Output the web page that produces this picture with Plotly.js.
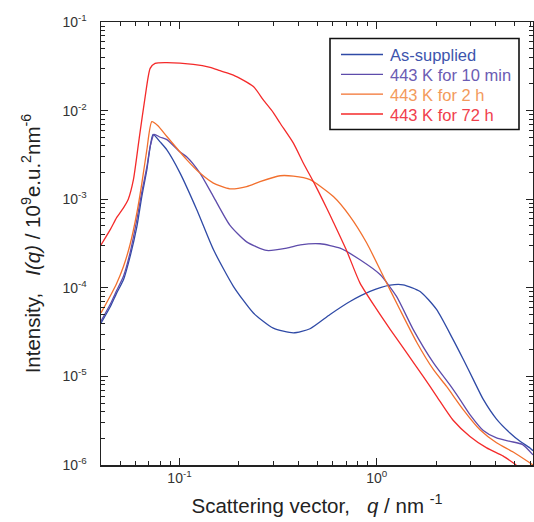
<!DOCTYPE html>
<html>
<head>
<meta charset="utf-8">
<script src="https://cdn.plot.ly/plotly-3.0.1.min.js"></script>
<style>html,body{margin:0;padding:0;background:#fff;}#chart{width:534px;height:522px;}</style>
</head>
<body>
<div id="chart"></div>
<script>
// Series names
const seriesNames = ["As-supplied", "443 K for 10 min", "443 K for 2 h", "443 K for 72 h"];

// As-supplied
const qAs = [0.04,0.0447,0.048,0.052,0.0562,0.0608,0.0644,0.0683,0.071,0.0735,0.08,0.0863,0.1007,0.1224,0.1486,0.1876,0.237,0.299,0.378,0.459,0.58,0.732,0.925,1.17,1.36,1.66,2.01,2.44,2.75,3.09,3.47,4.05,4.74,5.33,6.0,6.2];
const iAs = [4.0e-5,6.2e-5,8.7e-5,1.23e-4,2.26e-4,4.9e-4,1.07e-3,2.14e-3,3.9e-3,5.4e-3,4.4e-3,3.6e-3,1.97e-3,7.6e-4,2.7e-4,1.04e-4,5.2e-5,3.5e-5,3.1e-5,3.45e-5,5.0e-5,7.0e-5,9.1e-5,1.07e-4,1.08e-4,9.1e-5,5.7e-5,2.6e-5,1.55e-5,9.2e-6,5.5e-6,3.3e-6,2.3e-6,1.85e-6,1.55e-6,1.45e-6];

// 443 K for 10 min
const q10m = [0.04,0.0447,0.048,0.052,0.0562,0.0608,0.0644,0.0683,0.071,0.0743,0.08,0.0863,0.1007,0.109,0.127,0.1486,0.18,0.219,0.277,0.35,0.41,0.516,0.652,0.823,1.04,1.26,1.53,1.94,2.35,2.64,2.97,3.47,4.05,4.74,5.5,6.2];
const i10m = [4.2e-5,6.6e-5,9.3e-5,1.35e-4,2.5e-4,5.9e-4,1.2e-3,2.3e-3,3.9e-3,5.4e-3,5.0e-3,4.7e-3,3.4e-3,3.0e-3,1.97e-3,1.07e-3,5.1e-4,3.3e-4,2.64e-4,2.8e-4,3.05e-4,3.14e-4,2.8e-4,2.07e-4,1.41e-4,8.0e-5,3.4e-5,1.42e-5,8.0e-6,5.5e-6,3.7e-6,2.45e-6,2.02e-6,1.85e-6,1.7e-6,1.3e-6];

// 443 K for 2 h
const q2h = [0.04,0.0447,0.048,0.052,0.0562,0.0608,0.0644,0.0683,0.0724,0.0775,0.0863,0.109,0.127,0.1486,0.18,0.219,0.256,0.324,0.378,0.459,0.603,0.732,0.89,1.08,1.31,1.6,1.94,2.26,2.75,3.34,4.05,4.92,6.0,6.2];
const i2h = [5.2e-5,8.2e-5,1.12e-4,1.74e-4,3.1e-4,7.0e-4,1.5e-3,3.6e-3,7.5e-3,6.8e-3,5.1e-3,2.78e-3,1.97e-3,1.52e-3,1.31e-3,1.39e-3,1.58e-3,1.84e-3,1.82e-3,1.66e-3,1.07e-3,6.4e-4,3.2e-4,1.35e-4,5.7e-5,2.4e-5,1.19e-5,7.7e-6,4.2e-6,2.5e-6,1.78e-6,1.4e-6,1.05e-6,1.0e-6];

// 443 K for 72 h
const q72h = [0.04,0.0447,0.048,0.052,0.055,0.0584,0.0625,0.067,0.071,0.0752,0.0863,0.1175,0.143,0.1606,0.1876,0.237,0.266,0.299,0.324,0.378,0.425,0.487,0.558,0.603,0.705,0.823,1.0,1.17,1.42,1.72,2.01,2.44,2.97,3.61,4.38,5.1];
const i72h = [3.05e-4,4.6e-4,6.2e-4,8.0e-4,1.0e-3,1.66e-3,4.9e-3,1.44e-2,3.0e-2,3.42e-2,3.48e-2,3.33e-2,3.08e-2,2.82e-2,2.52e-2,1.87e-2,1.32e-2,9.5e-3,7.2e-3,4.3e-3,2.55e-3,1.45e-3,7.9e-4,5.5e-4,2.6e-4,1.13e-4,5.7e-5,3.4e-5,1.84e-5,1.0e-5,6.0e-6,3.2e-6,2.1e-6,1.56e-6,1.26e-6,1.0e-6];

// Tick labels
const xTickVals = [0.1, 1];
const xTickText = ["10<sup>-1</sup>", "10<sup>0</sup>"];
const yTickVals = [1e-1, 1e-2, 1e-3, 1e-4, 1e-5, 1e-6];
const yTickText = ["10<sup>-1</sup>", "10<sup>-2</sup>", "10<sup>-3</sup>", "10<sup>-4</sup>", "10<sup>-5</sup>", "10<sup>-6</sup>"];

const lineColors = ["#2f4aa6", "#5e4cab", "#f2702e", "#f42a2a"];
const textColors = ["#3d55ad", "#6b5cb3", "#f39a5c", "#f0404c"];

const xs = [qAs, q10m, q2h, q72h];
const ys = [iAs, i10m, i2h, i72h];

// minor tick positions
const xMinor = [];
[0.01, 0.1, 1].forEach(d => { for (let k = 2; k <= 9; k++) xMinor.push(k * d); });
const yMinor = [];
[1e-6, 1e-5, 1e-4, 1e-3, 1e-2].forEach(d => { for (let k = 2; k <= 9; k++) yMinor.push(k * d); });

const traces = seriesNames.map((n, i) => ({
  x: xs[i], y: ys[i], type: "scatter", mode: "lines", name: n,
  line: {color: lineColors[i], width: 1.3, shape: "spline", smoothing: 0.6},
  showlegend: false
}));

// Legend drawn as a boxed key (pixel geometry converted to paper fractions)
const W = 534, H = 522, M = {l: 101, r: 1, t: 22, b: 57};
const pw = W - M.l - M.r, ph = H - M.t - M.b;
const px = x => (x - M.l) / pw;
const py = y => (H - M.b - y) / ph;
const legRows = [55.5, 75.3, 95.2, 115.0];
const shapes = [{type: "rect", xref: "paper", yref: "paper", x0: px(330), x1: px(519), y0: py(38.5), y1: py(129.5),
  line: {color: "#111", width: 1.6}, fillcolor: "#fff", layer: "above"}];
const annotations = [];
seriesNames.forEach((n, i) => {
  shapes.push({type: "line", xref: "paper", yref: "paper", x0: px(341), x1: px(383), y0: py(legRows[i] - 1), y1: py(legRows[i] - 1),
    line: {color: lineColors[i], width: 1.3}, layer: "above"});
  annotations.push({xref: "paper", yref: "paper", x: px(388), y: py(legRows[i]), xanchor: "left", yanchor: "middle",
    text: n, showarrow: false, font: {family: "Liberation Sans, Arial, sans-serif", size: 16.5, color: textColors[i]}});
});

const axisFont = {family: "Liberation Sans, Arial, sans-serif", size: 14, color: "#333"};

const layout = {
  width: W, height: H,
  margin: M,
  paper_bgcolor: "#fff", plot_bgcolor: "#fff",
  font: {family: "Liberation Sans, Arial, sans-serif", color: "#222"},
  showlegend: false,
  shapes: shapes,
  annotations: annotations,
  xaxis: {
    type: "log", range: [Math.log10(0.04), Math.log10(6.2)],
    showline: true, linecolor: "#222", linewidth: 1.5, mirror: "ticks",
    showgrid: false, zeroline: false,
    tickmode: "array", tickvals: xTickVals, ticktext: xTickText,
    ticks: "inside", ticklen: 7, tickwidth: 1, tickcolor: "#222",
    tickfont: axisFont,
    minor: {tickmode: "array", tickvals: xMinor, ticks: "inside", ticklen: 4, tickwidth: 1, tickcolor: "#222", showgrid: false},
    title: {text: "Scattering vector,&nbsp;&nbsp; <i>q</i> / nm <sup>-1</sup>", font: {size: 20.5, color: "#222"}, standoff: 13}
  },
  yaxis: {
    type: "log", range: [-6, -1],
    showline: true, linecolor: "#222", linewidth: 1.5, mirror: "ticks",
    showgrid: false, zeroline: false,
    tickmode: "array", tickvals: yTickVals, ticktext: yTickText,
    ticks: "inside", ticklen: 7, tickwidth: 1, tickcolor: "#222",
    tickfont: axisFont, ticklabelstandoff: 10,
    minor: {tickmode: "array", tickvals: yMinor, ticks: "inside", ticklen: 4, tickwidth: 1, tickcolor: "#222", showgrid: false},
    title: {text: "Intensity,&nbsp;&nbsp; <i>I(q)</i> / 10<sup>9</sup>e.u.<sup>2</sup>nm<sup>-6</sup>", font: {size: 20.5, color: "#222"}, standoff: 16}
  }
};

Plotly.newPlot("chart", traces, layout, {displayModeBar: false, staticPlot: true});
</script>
</body>
</html>
